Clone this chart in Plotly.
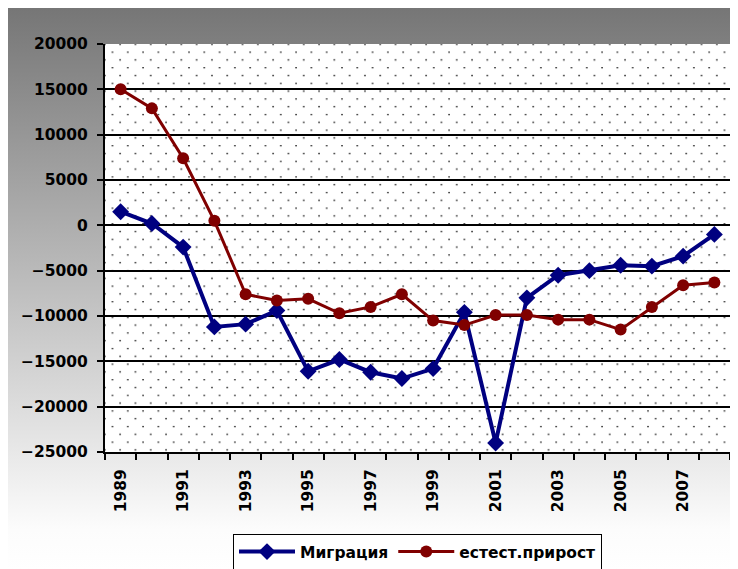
import base64
import plotly.graph_objects as go

years = list(range(1989, 2009))
migration = [1500, 200, -2400, -11200, -10900, -9400, -16100, -14800, -16200, -16900,
             -15800, -9600, -24000, -8000, -5500, -5000, -4400, -4500, -3400, -1000]
natural = [15000, 12900, 7400, 500, -7600, -8300, -8100, -9700, -9000, -7600,
           -10500, -11000, -9900, -9900, -10400, -10400, -11500, -9000, -6600, -6300]
series_names = ["Миграция", "естест.прирост"]
tick_years = years[::2]
tick_labels = [str(y) for y in tick_years]

# page is rendered with an 8px body margin; work in figure coordinates
OFF = 8
W, H = 738 - OFF, 569 - OFF
ML, MR, MT, MB = 105 - OFF, 8, 44 - OFF, H - (452 - OFF)
PW, PH = W - ML - MR, H - MT - MB


def data_uri(svg):
    return "data:image/svg+xml;base64," + base64.b64encode(svg.encode("utf-8")).decode("ascii")


dots_svg = (
    f'<svg xmlns="http://www.w3.org/2000/svg" width="{PW}" height="{PH}">'
    '<defs><pattern id="p" x="6.5" y="7.5" width="15.3" height="15.6" patternUnits="userSpaceOnUse">'
    '<rect width="15.3" height="15.6" fill="#ffffff"/>'
    '<circle cx="1" cy="0.5" r="0.85" fill="#1a1a1a"/>'
    '<circle cx="8.65" cy="8.3" r="0.85" fill="#1a1a1a"/>'
    '</pattern></defs>'
    '<rect width="100%" height="100%" fill="url(#p)"/></svg>'
)

grad_svg = (
    '<svg xmlns="http://www.w3.org/2000/svg" width="100" height="100" preserveAspectRatio="none">'
    '<defs><linearGradient id="g" x1="0" y1="0" x2="0" y2="1">'
    '<stop offset="0" stop-color="#767676"/>'
    '<stop offset="0.93" stop-color="#fcfcfc"/>'
    '<stop offset="1" stop-color="#ffffff"/>'
    '</linearGradient></defs>'
    '<rect width="100" height="100" fill="url(#g)"/></svg>'
)

FONT = "DejaVu Sans"

fig = go.Figure()
fig.add_trace(go.Scatter(
    x=years, y=migration, name=series_names[0], mode="lines+markers",
    line=dict(color="#000080", width=4),
    marker=dict(symbol="diamond", size=13, color="#000080"),
))
fig.add_trace(go.Scatter(
    x=years, y=natural, name=series_names[1], mode="lines+markers",
    line=dict(color="#800000", width=3),
    marker=dict(symbol="circle", size=12, color="#800000"),
))

gx0 = -ML / PW
gy1 = (H - MB) / PH

fig.update_layout(
    width=W, height=H,
    margin=dict(l=ML, r=MR, t=MT, b=MB, pad=0, autoexpand=False),
    paper_bgcolor="#ffffff",
    plot_bgcolor="#ffffff",
    font=dict(family=FONT, size=15, color="#000000"),
    showlegend=True,
    legend=dict(
        orientation="h", x=0.5, xanchor="center", y=(H - MB - (534 - OFF)) / PH, yanchor="top",
        bgcolor="#ffffff", bordercolor="#000000", borderwidth=1,
        font=dict(family=FONT, size=15.5, color="#000000", weight="bold"),
        itemwidth=56,
    ),
    images=[
        dict(source=data_uri(grad_svg), xref="paper", yref="paper",
             x=gx0, y=gy1, sizex=W / PW, sizey=H / PH,
             xanchor="left", yanchor="top", sizing="stretch", layer="below"),
        dict(source=data_uri(dots_svg), xref="paper", yref="paper",
             x=0, y=1, sizex=1, sizey=1,
             xanchor="left", yanchor="top", sizing="stretch", layer="below"),
    ],
    xaxis=dict(
        range=[years[0] - 0.5, years[-1] + 0.5],
        tickvals=tick_years, ticktext=tick_labels, tickangle=-90,
        ticks="", showgrid=False, zeroline=False,
        showline=True, linecolor="#000000", linewidth=2,
        tickfont=dict(family=FONT, size=15.5, color="#000000", weight="bold"),
        ticklabelstandoff=9,
        minor=dict(tickvals=[y - 0.5 for y in years] + [years[-1] + 0.5],
                   ticks="outside", ticklen=6, tickwidth=1.5, tickcolor="#000000",
                   showgrid=False),
    ),
    yaxis=dict(
        range=[-25000, 20000], dtick=5000, tickformat="d",
        ticks="outside", ticklen=6, tickwidth=1.5, tickcolor="#000000",
        showgrid=True, gridcolor="#000000", gridwidth=1.5,
        zeroline=False,
        showline=True, linecolor="#000000", linewidth=2,
        tickfont=dict(family=FONT, size=15.5, color="#000000", weight="bold"),
        ticklabelstandoff=6,
    ),
)

fig.write_html("out.html")
